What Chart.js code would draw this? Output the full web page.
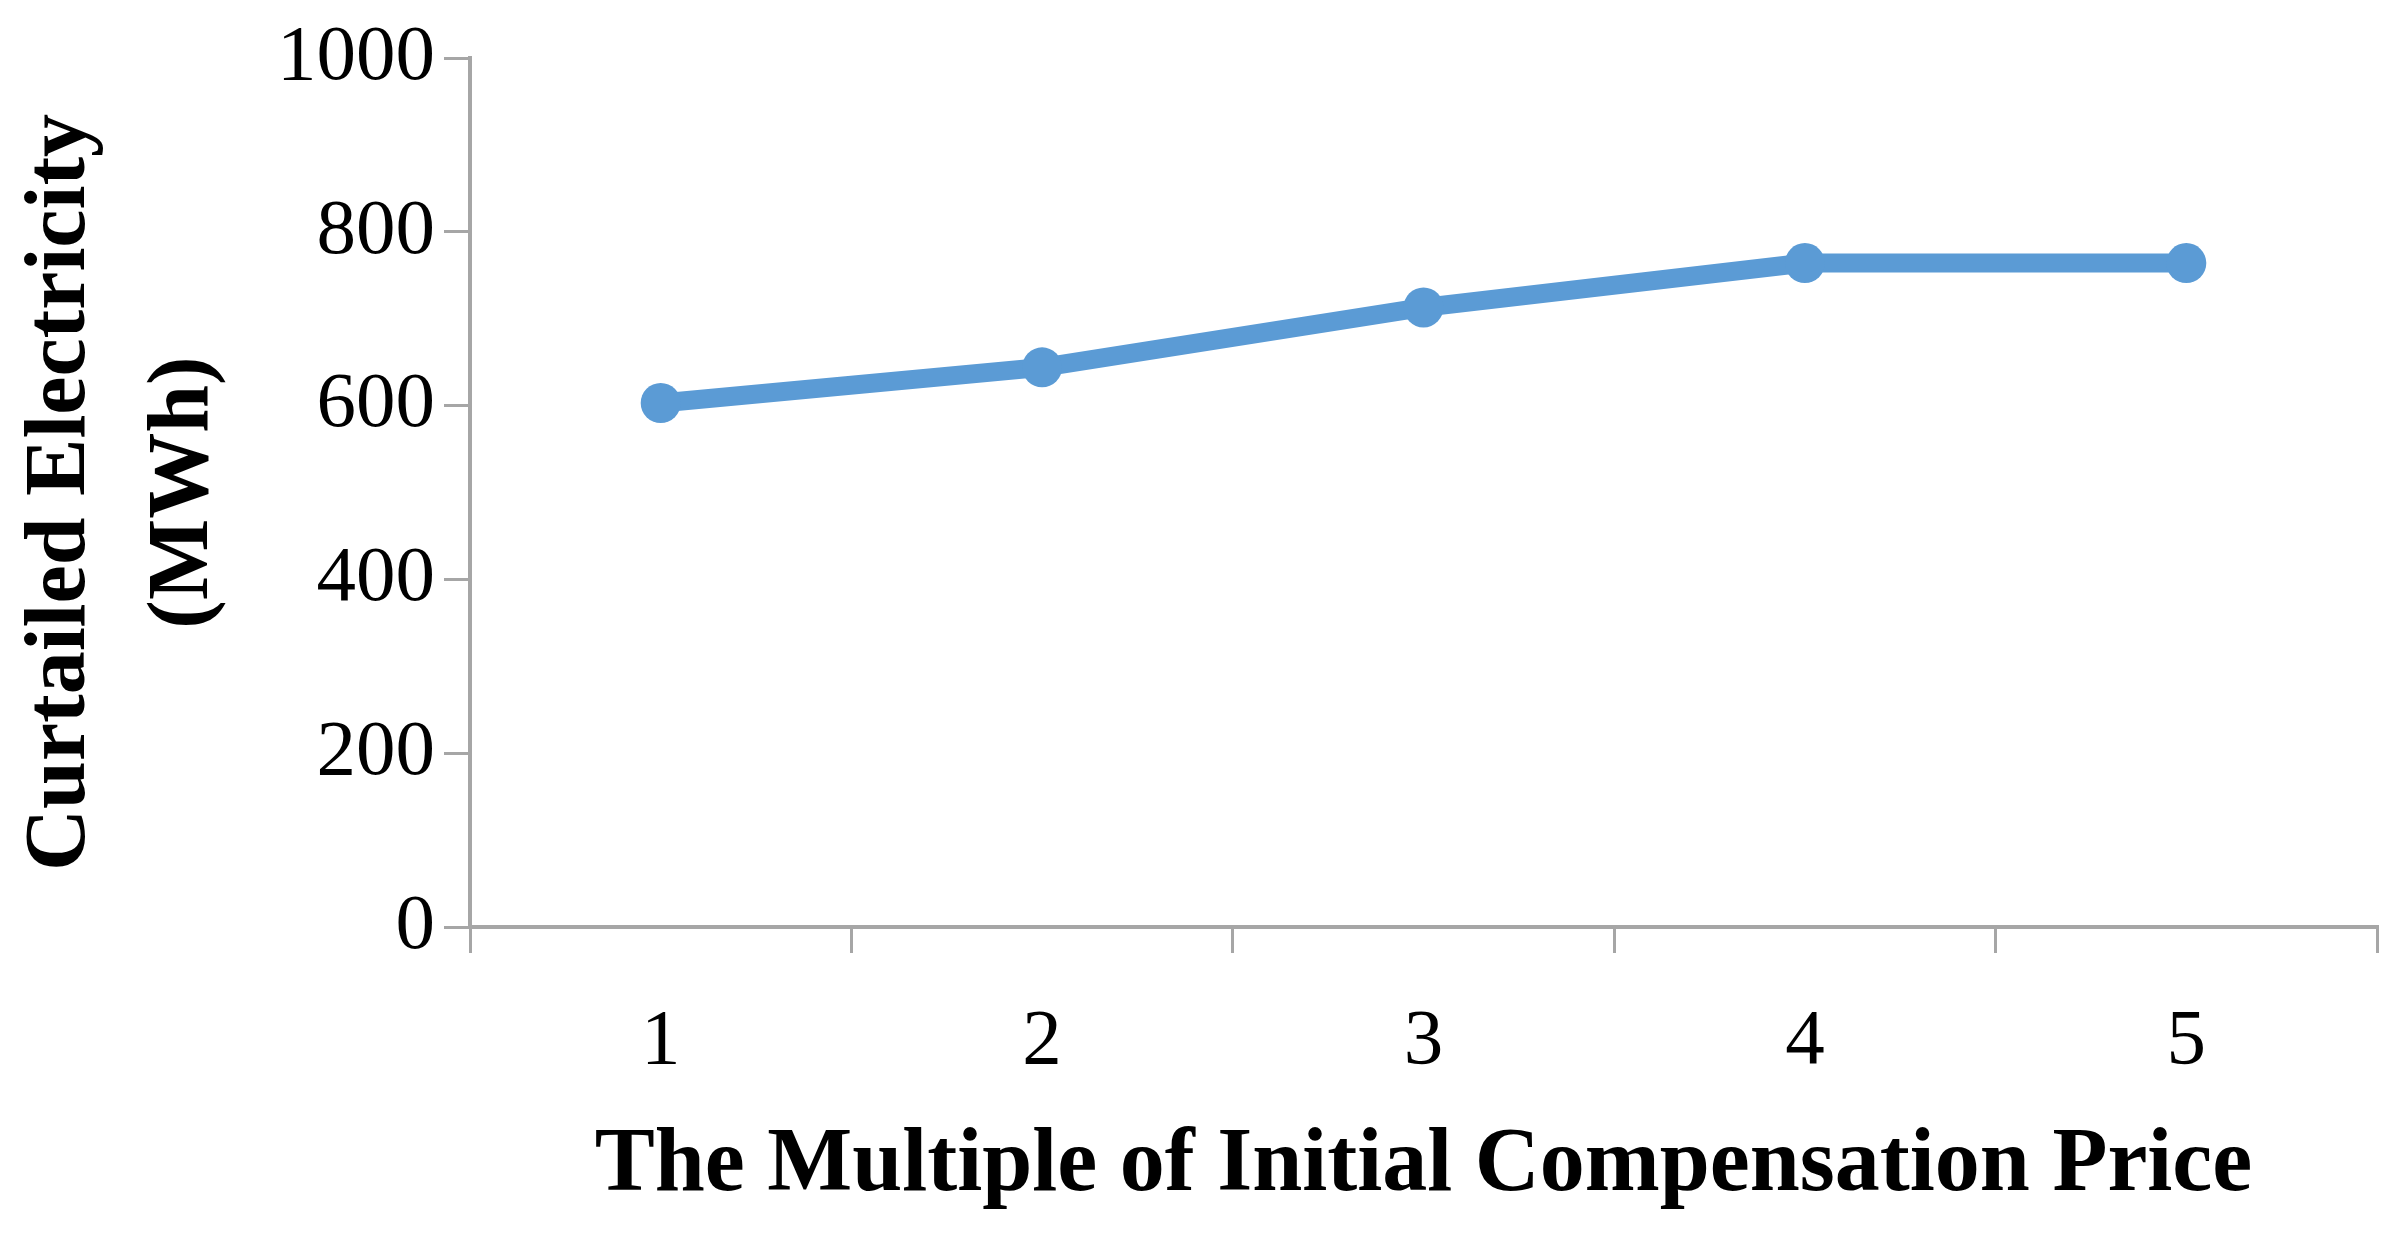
<!DOCTYPE html>
<html lang="en">
<head>
  <meta charset="UTF-8">
  <title>Curtailed Electricity vs Compensation Price</title>
  <script src="https://cdn.jsdelivr.net/npm/chart.js"></script>
  <style>
    body { margin: 0; background: #fff; }
    .wrap { width: 2408px; height: 1237px; }
  </style>
</head>
<body>
  <div class="wrap"><canvas id="chart" width="2408" height="1237"></canvas></div>
  <script>
    // data
    const multiples = ['1', '2', '3', '4', '5'];
    const curtailed = [603, 644, 713, 764, 764];
    const yTicks = [0, 200, 400, 600, 800, 1000];

    const axisGrey = '#A6A6A6';
    const lineBlue = '#5B9BD5';
    const serif = "'Liberation Serif', 'DejaVu Serif', serif";

    new Chart(document.getElementById('chart'), {
      type: 'line',
      data: {
        labels: multiples,
        datasets: [{
          data: curtailed,
          borderColor: lineBlue,
          backgroundColor: lineBlue,
          borderWidth: 19,
          pointRadius: 20,
          pointBorderWidth: 0,
          pointBackgroundColor: lineBlue,
          tension: 0
        }]
      },
      options: {
        responsive: false,
        animation: false,
        layout: { padding: { top: 58, right: 31, left: 0, bottom: 0 } },
        plugins: { legend: { display: false }, tooltip: { enabled: false } },
        scales: {
          x: {
            offset: true,
            grid: { offset: true, drawOnChartArea: false, color: axisGrey, lineWidth: 3, tickLength: 26 },
            border: { color: axisGrey, width: 4 },
            ticks: { color: '#000', padding: 42, font: { family: serif, size: 79 } },
            title: {
              display: true,
              text: 'The Multiple of Initial Compensation Price',
              color: '#000',
              padding: { top: 20, bottom: 16 },
              font: { family: serif, size: 90, weight: 'bold' }
            },
            afterFit: (s) => { s.height = 310; }
          },
          y: {
            min: 0,
            max: 1000,
            afterBuildTicks: (s) => { s.ticks = yTicks.map(v => ({ value: v })); },
            grid: { drawOnChartArea: false, color: axisGrey, lineWidth: 3, tickLength: 26 },
            border: { color: axisGrey, width: 4 },
            ticks: { color: '#000', padding: 9, font: { family: serif, size: 79 }, callback: (v) => String(v) },
            title: {
              display: true,
              text: ['Curtailed Electricity', '(MWh)'],
              color: '#000',
              padding: { top: 0, bottom: 0 },
              font: { family: serif, size: 86, weight: 'bold', lineHeight: 1.43 }
            },
            afterFit: (s) => { s.width = 470; }
          }
        }
      }
    });
  </script>
</body>
</html>
